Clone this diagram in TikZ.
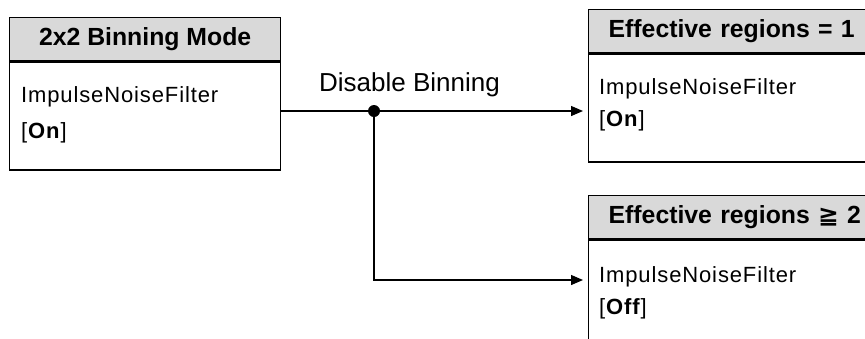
\documentclass[tikz,border=0pt]{standalone}
\usepackage{fontspec}
\setmainfont{Liberation Sans}
\newfontfamily\symfont{DejaVu Sans}
\newfontfamily\bodyfont[LetterSpace=4]{Liberation Sans}
\usetikzlibrary{arrows.meta,positioning}
\definecolor{hdrgray}{RGB}{217,217,217}

\begin{document}
\begin{tikzpicture}[x=1pt, y=-1pt,
    box/.style={draw, line width=1.3pt, inner sep=0pt, anchor=north west},
    hdr/.style={box, fill=hdrgray, minimum height=43pt, font=\bfseries\fontsize{24.8}{25}\selectfont},
    rhdr/.style={hdr, text width=270pt, align=left, inner xsep=20pt},
    txt/.style={anchor=base west, inner sep=0pt, font=\bodyfont\fontsize{22}{22}\selectfont},
    dot/.style={circle, fill, inner sep=0pt, minimum size=12pt},
    flow/.style={line width=1.3pt, -{Triangle[length=12pt,width=10pt]}, shorten >=5pt}]
    \useasboundingbox (0,0) rectangle (865,338);
    \clip (0,0) rectangle (865,338);

    % source mode
    \node (modehdr) [hdr, minimum width=271pt] at (9,17) {2x2 Binning Mode};
    \node (modebody) [box, minimum width=271pt, minimum height=108pt] at (modehdr.south west) {};
    \node (modefilt) [txt] at (21,102) {ImpulseNoiseFilter};
    \node (modestate) [txt] at (21,138) {[\textbf{On}]};

    % one region
    \node (onehdr) [rhdr] at (588,9) {Effective regions = 1};
    \node (onebody) [box, minimum width=310pt, minimum height=108pt] at (onehdr.south west) {};
    \node (onefilt) [txt] at (599,94.5) {ImpulseNoiseFilter};
    \node (onestate) [txt] at (599,126.5) {[\textbf{On}]};

    % two or more regions
    \node (twohdr) [rhdr] at (588,195) {Effective regions {\symfont ≧} 2};
    \node (twobody) [box, minimum width=310pt, minimum height=108pt] at (twohdr.south west) {};
    \node (twofilt) [txt] at (599,282) {ImpulseNoiseFilter};
    \node (twostate) [txt] at (599,314) {[\textbf{Off}]};

    % connectors
    \node (split) [dot] at (374,111) {};
    \coordinate (turn) at (374,280);
    \node (lbl) [anchor=base west, inner sep=0pt, font=\fontsize{26}{26}\selectfont] at (319,91) {Disable Binning};
    \draw [line width=1.3pt] (modebody.east |- split) -- (split);
    \draw [flow] (split) -- (split -| onebody.west);
    \draw [flow] (split) -- (turn) -- (turn -| twobody.west);
\end{tikzpicture}
\end{document}
